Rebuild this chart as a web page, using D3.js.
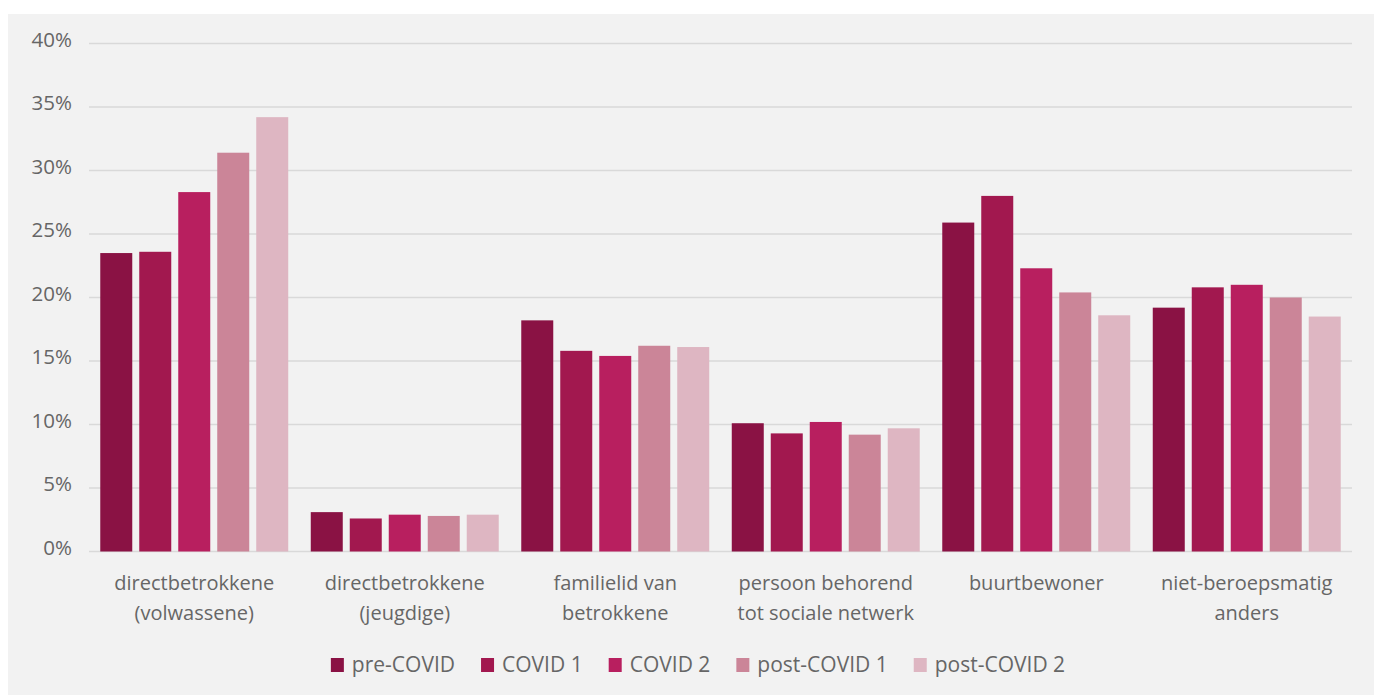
<!DOCTYPE html>
<html>
<head>
<meta charset="utf-8">
<script src="https://cdn.jsdelivr.net/npm/d3@7"></script>
<style>
  body { margin: 0; background: #fff; }
  svg { display: block; }
  text { font-family: "Open Sans", sans-serif; fill: #666; }
</style>
</head>
<body>
<svg id="chart"></svg>
<script>
// categories (two-line labels)
var categories = [
  ["directbetrokkene", "(volwassene)"],
  ["directbetrokkene", "(jeugdige)"],
  ["familielid van", "betrokkene"],
  ["persoon behorend", "tot sociale netwerk"],
  ["buurtbewoner"],
  ["niet-beroepsmatig", "anders"]
];
var seriesNames = ["pre-COVID", "COVID 1", "COVID 2", "post-COVID 1", "post-COVID 2"];
var colors = ["#8a1244", "#a2184f", "#b81f5f", "#cb8598", "#deb6c2"];

// values in percent, one array per series
var preCovid   = [23.5, 3.1, 18.2, 10.1, 25.9, 19.2];
var covid1     = [23.6, 2.6, 15.8, 9.3, 28.0, 20.8];
var covid2     = [28.3, 2.9, 15.4, 10.2, 22.3, 21.0];
var postCovid1 = [31.4, 2.8, 16.2, 9.2, 20.4, 20.0];
var postCovid2 = [34.2, 2.9, 16.1, 9.7, 18.6, 18.5];
var series = [preCovid, covid1, covid2, postCovid1, postCovid2];

var yTicks = [0, 5, 10, 15, 20, 25, 30, 35, 40];

var width = 1374, height = 695;
var svg = d3.select('#chart').attr('width', width).attr('height', height);

svg.append('rect')
  .attr('x', 8).attr('y', 14)
  .attr('width', width - 8).attr('height', height - 14)
  .attr('fill', '#f2f2f2');

var plotLeft = 89, plotRight = 1352, plotTop = 43.5, plotBottom = 551.5;

var y = d3.scaleLinear().domain([0, 40]).range([plotBottom, plotTop]);

var x0 = d3.scaleBand()
  .domain(d3.range(categories.length))
  .range([plotLeft, plotRight])
  .paddingInner(0.107)
  .paddingOuter(0.0535);

var x1 = d3.scaleBand()
  .domain(d3.range(seriesNames.length))
  .range([0, x0.bandwidth()])
  .paddingInner(7 / 39);

// gridlines
svg.append('g')
  .selectAll('line')
  .data(yTicks)
  .enter().append('line')
    .attr('x1', plotLeft)
    .attr('x2', plotRight)
    .attr('y1', d => y(d))
    .attr('y2', d => y(d))
    .attr('stroke', '#d9d9d9')
    .attr('stroke-width', 1.5)

// y labels
svg.append('g')
  .selectAll('text')
  .data(yTicks)
  .enter().append('text')
    .attr('x', 72)
    .attr('y', d => y(d) + 3)
    .attr('text-anchor', 'end')
    .attr('font-size', 20.5)
    .text(d => d + '%')

// bars
var groups = svg.append('g')
  .selectAll('g')
  .data(categories)
  .enter().append('g')
    .attr('transform', (d, i) => 'translate(' + x0(i) + ',0)')

groups.selectAll('rect')
  .data((d, i) => series.map((s, j) => ({ s: j, v: s[i] })))
  .enter().append('rect')
    .attr('x', d => x1(d.s))
    .attr('width', x1.bandwidth())
    .attr('y', d => y(d.v))
    .attr('height', d => y(0) - y(d.v))
    .attr('fill', d => colors[d.s])

// category labels
var catLabels = svg.append('g')
  .selectAll('text')
  .data(categories)
  .enter().append('text')
    .attr('text-anchor', 'middle')
    .attr('font-size', 20)
    .attr('x', (d, i) => x0(i) + x0.bandwidth() / 2)
    .attr('y', 590)

catLabels.selectAll('tspan')
  .data(d => d)
  .enter().append('tspan')
    .attr('x', function () { return d3.select(this.parentNode).attr('x'); })
    .attr('dy', (d, i) => i === 0 ? 0 : 30)
    .text(d => d)

// legend
var legend = svg.append('g');
var items = legend.selectAll('g')
  .data(seriesNames)
  .enter().append('g')

items.append('rect')
  .attr('width', 13).attr('height', 14)
  .attr('y', 658)
  .attr('fill', (d, i) => colors[i])

items.append('text')
  .attr('x', 21)
  .attr('y', 672)
  .attr('font-size', 21)
  .text(d => d)

var gap = 26;
var pos = 0;
var offsets = [];
items.each(function () {
  offsets.push(pos);
  var w = d3.select(this).select('text').node().getComputedTextLength();
  pos += 21 + w + gap;
});
var total = pos - gap;
var startX = 698 - total / 2;
items.attr('transform', (d, i) => 'translate(' + (startX + offsets[i]) + ',0)')
</script>
</body>
</html>
